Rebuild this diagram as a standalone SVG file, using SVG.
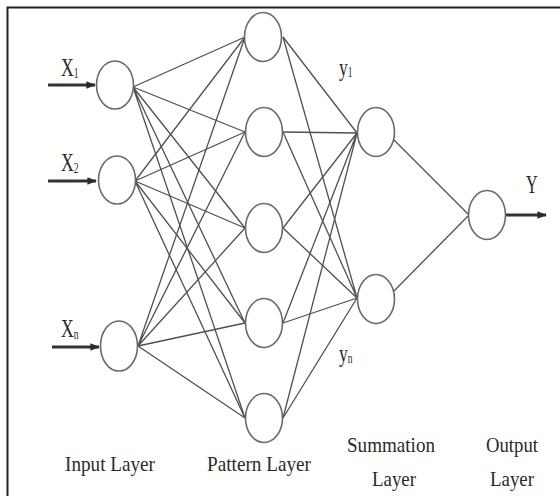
<svg xmlns="http://www.w3.org/2000/svg" width="560" height="496" viewBox="0 0 560 496">
<defs>
<marker id="ah" viewBox="0 0 10 10" refX="9" refY="5" markerWidth="3.2" markerHeight="3.2" orient="auto" markerUnits="strokeWidth">
<path d="M0,1 L10,5 L0,9 Z" fill="#2a2a2a"/>
</marker>
<style>
.n{fill:#fff;stroke:#6a6a6a;stroke-width:1.6}
.c{stroke:#505050;stroke-width:1.3;fill:none}
.a{stroke:#333;stroke-width:3;fill:none;marker-end:url(#ah)}
.t{font-family:"Liberation Serif","Times New Roman",serif;fill:#2a2a2a;font-size:21px}
.v{font-family:"Liberation Serif","Times New Roman",serif;fill:#2a2a2a;font-size:26px}
.s{font-size:14px}
</style>
</defs>
<rect width="560" height="496" fill="#fff"/>
<path d="M7.5,496 V7.5 H560" fill="none" stroke="#222" stroke-width="2"/>
<g id="connectors">
<path class="c" d="M133,87 L245,37 M133,87 L245,132 M133,87 L245,228 M133,87 L245,323 M133,87 L245,418"/>
<path class="c" d="M135,181 L245,37 M135,181 L245,132 M135,181 L245,228 M135,181 L245,323 M135,181 L245,418"/>
<path class="c" d="M138,346 L245,37 M138,346 L245,132 M138,346 L245,228 M138,346 L245,323 M138,346 L245,418"/>
<path class="c" d="M283,37 L357,133 M283,132 L357,133 M283,228 L357,133 M283,323 L357,133 M283,418 L357,133"/>
<path class="c" d="M283,37 L357,298 M283,132 L357,298 M283,228 L357,298 M283,323 L357,298 M283,418 L357,298"/>
<path class="c" d="M394,140 L468,214 M394,291 L468,216"/>
<path class="a" d="M48,85 L95,85"/>
<path class="a" d="M48,181 L96,181"/>
<path class="a" d="M52,347 L99,347"/>
<path class="a" d="M506,215 L546,215"/>
</g>
<g id="x1"><ellipse class="n" cx="115" cy="85" rx="18.5" ry="24"/></g>
<g id="x2"><ellipse class="n" cx="117" cy="180" rx="18.5" ry="24"/></g>
<g id="xn"><ellipse class="n" cx="119" cy="346" rx="18.5" ry="25"/></g>
<g id="p1"><ellipse class="n" cx="263" cy="37" rx="18.5" ry="24.5"/></g>
<g id="p2"><ellipse class="n" cx="264" cy="132" rx="18.5" ry="24.5"/></g>
<g id="p3"><ellipse class="n" cx="264" cy="228" rx="18.5" ry="24.5"/></g>
<g id="p4"><ellipse class="n" cx="264" cy="323" rx="18.5" ry="24.5"/></g>
<g id="p5"><ellipse class="n" cx="264" cy="418" rx="18.5" ry="24.5"/></g>
<g id="s1"><ellipse class="n" cx="376" cy="132" rx="18.5" ry="24.5"/></g>
<g id="sn"><ellipse class="n" cx="376" cy="299" rx="18.5" ry="24.5"/></g>
<g id="out"><ellipse class="n" cx="487" cy="215" rx="18.5" ry="24.5"/></g>
<g id="labels">
<text class="v" transform="translate(61,76) scale(0.68,1)">X<tspan class="s" dy="2">1</tspan></text>
<text class="v" transform="translate(61,171) scale(0.68,1)">X<tspan class="s" dy="2">2</tspan></text>
<text class="v" transform="translate(61,337) scale(0.68,1)">X<tspan class="s" dy="2">n</tspan></text>
<text class="v" transform="translate(339,76) scale(0.68,1)">y<tspan class="s" dy="1">1</tspan></text>
<text class="v" transform="translate(339,362) scale(0.68,1)">y<tspan class="s" dy="1">n</tspan></text>
<text class="v" transform="translate(526,193) scale(0.62,1)">Y</text>
<text class="t" x="65" y="471" textLength="90" lengthAdjust="spacingAndGlyphs">Input Layer</text>
<text class="t" x="207" y="471" textLength="104" lengthAdjust="spacingAndGlyphs">Pattern Layer</text>
<text class="t" x="347" y="452" textLength="88" lengthAdjust="spacingAndGlyphs">Summation</text>
<text class="t" x="372" y="486" textLength="44" lengthAdjust="spacingAndGlyphs">Layer</text>
<text class="t" x="486" y="452" textLength="52" lengthAdjust="spacingAndGlyphs">Output</text>
<text class="t" x="490" y="486" textLength="44" lengthAdjust="spacingAndGlyphs">Layer</text>
</g>
</svg>
